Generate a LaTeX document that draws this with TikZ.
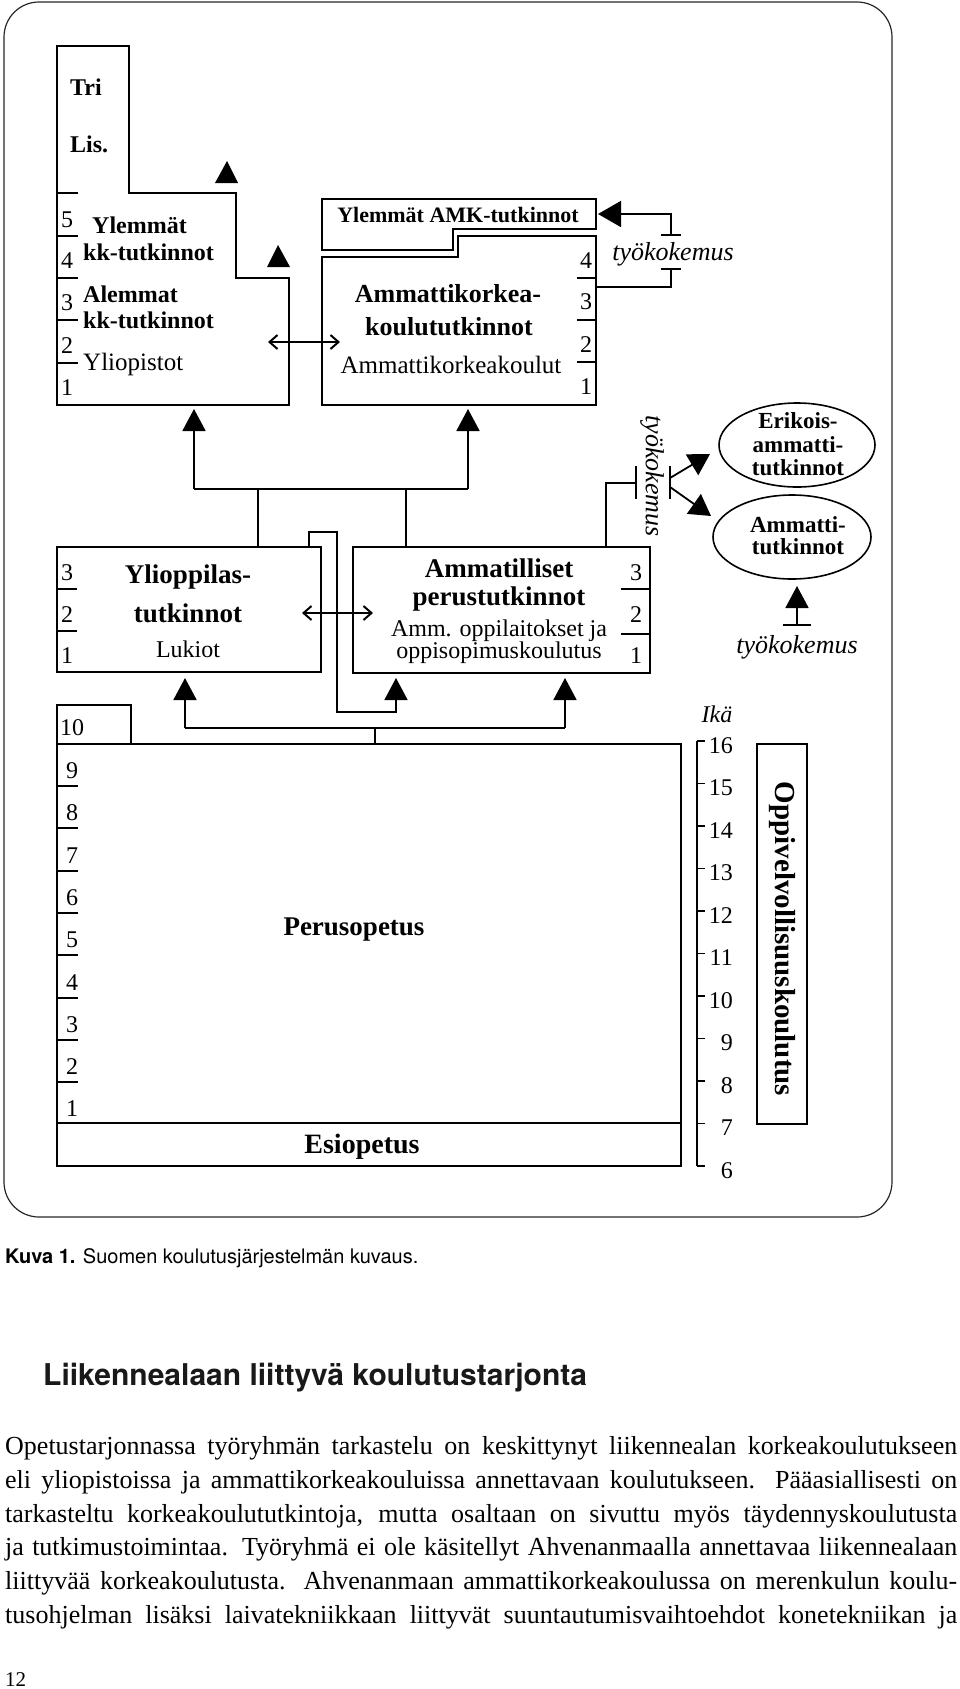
\documentclass[tikz,border=0pt]{standalone}
\usepackage{fontspec}
\setmainfont{Liberation Serif}
\newfontfamily\capfont{TeX Gyre Heros}
\usetikzlibrary{arrows.meta,shapes.geometric,calc}
\newcommand\sz[1]{\fontsize{#1}{#1}\selectfont}
\begin{document}
\begin{tikzpicture}[x=1pt,y=-1pt,
  ln/.style={line width=1.8pt},
  thin/.style={line width=1.7pt},
  bx/.style={draw,line width=1.8pt,inner sep=0pt,outer sep=0pt,anchor=north west},
  ell/.style={draw,ellipse,line width=1.6pt,inner sep=0pt},
  tc/.style={inner sep=0pt,anchor=base},
  tw/.style={inner sep=0pt,anchor=base west},
  te/.style={inner sep=0pt,anchor=base east},
  tri/.style={-{Triangle[length=22pt,width=23pt]}},
  triA/.style={-{Triangle[length=23pt,width=26pt]}},
  triD/.style={-{Triangle[length=21pt,width=24pt]}},
  barb/.style={{Straight Barb[length=8pt,width=14pt,line width=2pt]}-{Straight Barb[length=8pt,width=14pt,line width=2pt]}},
  B/.style={font=\sz{#1}\bfseries},
  R/.style={font=\sz{#1}},
  I/.style={font=\sz{#1}\itshape}
]
\useasboundingbox (0,0) rectangle (960,1689);

% outer frame
\draw[line width=1.2pt,black!85,rounded corners=35pt] (4,2) rectangle (892,1217);

% ---------- universities ----------
\draw[ln] (57,46) -- (129,46) -- (129,193) -- (236,193) -- (236,278) -- (289,278) -- (289,405) -- (57,405) -- cycle;
\foreach \y in {193,236,278,320,363} \draw[ln] (57,\y) -- (78,\y);
\node[tw,B=24] (tri) at (70,95) {Tri};
\node[tw,B=24] (lis) at (70,152) {Lis.};
\node[tc,R=24] (u5) at (67,227) {5};
\node[tc,R=24] (u4) at (67,268) {4};
\node[tc,R=24] (u3) at (67,310) {3};
\node[tc,R=24] (u2) at (67,353) {2};
\node[tc,R=24] (u1) at (67,395) {1};
\node[tw,B=24] (yl1) at (92,233) {Ylemmät};
\node[tw,B=24] (yl2) at (83,260) {kk-tutkinnot};
\node[tw,B=24] (al1) at (83,302) {Alemmat};
\node[tw,B=24] (al2) at (83,328) {kk-tutkinnot};
\node[tw,R=25] (ylio) at (83,370) {Yliopistot};
\fill (215,183) -- (227,161) -- (238,183) -- cycle;
\fill (267,267) -- (278,245) -- (290,267) -- cycle;

% ---------- AMK ----------
\draw[ln] (322,199) -- (596,199) -- (596,229) -- (453,229) -- (453,250) -- (322,250) -- cycle;
\draw[ln] (322,257) -- (458,257) -- (458,236) -- (596,236) -- (596,405) -- (322,405) -- cycle;
\foreach \y in {278,320,362} \draw[ln] (577,\y) -- (596,\y);
\node[tc,B=22] (ylamk) at (458,222) {Ylemmät AMK-tutkinnot};
\node[tc,R=24] (a4) at (586,268) {4};
\node[tc,R=24] (a3) at (586,309) {3};
\node[tc,R=24] (a2) at (586,352) {2};
\node[tc,R=24] (a1) at (586,394) {1};
\node[tc,B=26] (amk1) at (448,302) {Ammattikorkea-};
\node[tc,B=26] (amk2) at (449,335) {koulututkinnot};
\node[tc,R=25] (amk3) at (451,373) {Ammattikorkeakoulut};

\coordinate (daL) at (268,342);
\coordinate (daR) at (340,342);
\draw[thin,barb] (daL) -- (daR);

% work experience -> Ylemmät AMK
\coordinate (amkR) at (596,287);
\coordinate (wc1) at (671,269);
\coordinate (wc2) at (671,235);
\coordinate (ylR) at (598,214);
\draw[ln] (amkR) -| (wc1);
\draw[ln,triA] (wc2) |- (ylR);
\draw[ln] ($(wc1)+(-10,0)$) -- ($(wc1)+(10,0)$);
\draw[ln] ($(wc2)+(-10,0)$) -- ($(wc2)+(10,0)$);
\node[tc,I=26] (tk1) at (673,260) {työkokemus};

% ---------- upper secondary ----------
\node[bx,minimum width=264pt,minimum height=125pt] (yo) at (57,547) {};
\node[bx,minimum width=297pt,minimum height=126pt] (am) at (353,547) {};
\foreach \y in {589,631} \draw[ln] (57,\y) -- (77,\y);
\foreach \y in {589,634} \draw[ln] (621,\y) -- (650,\y);
\node[tc,R=24] (y3) at (67,580) {3};
\node[tc,R=24] (y2) at (67,622) {2};
\node[tc,R=24] (y1) at (67,663) {1};
\node[tc,R=24] (m3) at (636,580) {3};
\node[tc,R=24] (m2) at (636,622) {2};
\node[tc,R=24] (m1) at (636,663) {1};
\node[tc,B=27] (yot1) at (188,583) {Ylioppilas-};
\node[tc,B=27] (yot2) at (188,622) {tutkinnot};
\node[tc,R=24] (yot3) at (188,657) {Lukiot};
\node[tc,B=27] (amt1) at (499,577) {Ammatilliset};
\node[tc,B=27] (amt2) at (499,605) {perustutkinnot};
\node[tc,R=24] (amt3) at (499,636) {Amm. oppilaitokset ja};
\node[tc,R=24] (amt4) at (499,658) {oppisopimuskoulutus};

\coordinate (dbL) at (302,613);
\coordinate (dbR) at (373,613);
\draw[thin,barb] (dbL) -- (dbR);

% connectors up to higher education
\coordinate (jL) at (194,489);
\coordinate (jR) at (468,489);
\coordinate (univIn) at (194,409);
\coordinate (amkIn) at (468,409);
\coordinate (s1) at (258,489);
\coordinate (s2) at (406,489);
\draw[ln] (jL) -- (jR);
\draw[ln,tri] (jL) -- (univIn);
\draw[ln,tri] (jR) -- (amkIn);
\draw[ln] (s1 |- yo.north) -- (s1);
\draw[ln] (s2 |- am.north) -- (s2);

% crossing path Ylioppilas -> Ammatilliset
\coordinate (x1) at (309,532);
\coordinate (x2) at (337,712);
\coordinate (x3) at (396,678);
\draw[ln,tri] (x1 |- yo.north) -- (x1) -| (x2) -| (x3);

% work experience -> special qualifications
\coordinate (w1) at (606,483);
\coordinate (cb1) at (636,483);
\coordinate (cb2) at (670,483);
\draw[ln] (w1 |- am.north) -- (w1) -- (cb1);
\draw[ln] ($(cb1)+(0,-17)$) -- ($(cb1)+(0,16)$);
\draw[ln] ($(cb2)+(0,-17)$) -- ($(cb2)+(0,16)$);
\node[I=26,inner sep=0pt,rotate=-90] (tk2) at (652,476) {työkokemus};
\node[ell,minimum width=156pt,minimum height=84pt] (erik) at (797,445) {};
\node[ell,minimum width=158pt,minimum height=84pt] (ammt) at (792,537) {};
\coordinate (eIn) at (710,454);
\coordinate (aIn) at (711,516);
\draw[ln,triD] ($(cb2)+(0,-5)$) -- (eIn);
\draw[ln,triD] ($(cb2)+(0,4)$) -- (aIn);
\node[tc,B=23] (e1) at (798,428) {Erikois-};
\node[tc,B=23] (e2) at (798,452) {ammatti-};
\node[tc,B=23] (e3) at (798,475) {tutkinnot};
\node[tc,B=23] (t1) at (798,532) {Ammatti-};
\node[tc,B=23] (t2) at (798,554) {tutkinnot};
\coordinate (wd) at (797,625);
\coordinate (ammIn) at (797,586);
\draw[ln] ($(wd)+(-14,0)$) -- ($(wd)+(14,0)$);
\draw[ln,tri] (wd) -- (ammIn);
\node[tc,I=26] (tk3) at (797,653) {työkokemus};

% ---------- basic education ----------
\node[bx,minimum width=74pt,minimum height=39pt] (ten) at (57,705) {};
\node[bx,minimum width=624pt,minimum height=379pt] (pe) at (57,744) {};
\node[bx,minimum width=624pt,minimum height=43pt] (es) at (57,1123) {};
\node[tc,R=24] (n10) at (72,735) {10};
\foreach \y/\n in {786/9,828/8,871/7,913/6,955/5,998/4,1040/3,1082/2,1124/1}{
  \node[tc,R=24] at (72,\y-8) {\n};
}
\foreach \y in {786,828,871,913,955,998,1040,1082} \draw[ln] (57,\y) -- (78,\y);
\node[tc,B=27] (peru) at (354,935) {Perusopetus};
\node[tc,B=28] (esio) at (362,1153) {Esiopetus};

\coordinate (bL) at (185,728);
\coordinate (bR) at (565,728);
\coordinate (bM) at (375,728);
\coordinate (yoIn) at (185,678);
\coordinate (amIn) at (565,678);
\draw[ln] (bL) -- (bR);
\draw[ln,tri] (bL) -- (yoIn);
\draw[ln,tri] (bR) -- (amIn);
\draw[ln] (bM) -- (bM |- pe.north);

% ---------- age axis ----------
\draw[line width=1.6pt] (697,741) -- (697,1166);
\foreach \k/\a in {0/16,1/15,2/14,3/13,4/12,5/11,6/10,7/9,8/8,9/7,10/6}{
  \draw[line width=1.6pt] (697,741+\k*42.5) -- (705,741+\k*42.5);
  \node[te,R=24] at (733,753+\k*42.5) {\a};
}
\node[tc,I=24] (ika) at (717,722) {Ikä};
\node[bx,minimum width=50pt,minimum height=380pt] (ov) at (757,744) {};
\node[B=29,inner sep=0pt,rotate=-90] (ovt) at (782,939) {Oppivelvollisuuskoulutus};

% ---------- caption and text ----------
\node[tw,font=\capfont\sz{20}] (cap) at (5,1263) {{\bfseries Kuva 1.} Suomen koulutusjärjestelmän kuvaus.};
\node[tw,font=\capfont\sz{30}\bfseries,text=black!90] (head) at (43,1385) {Liikennealaan liittyvä koulutustarjonta};
\node[tw,R=26] (l1) at (5,1454) {\makebox[952pt][s]{Opetustarjonnassa työryhmän tarkastelu on keskittynyt liikennealan korkeakoulutukseen}};
\node[tw,R=26] (l2) at (5,1488) {\makebox[952pt][s]{eli yliopistoissa ja ammattikorkeakouluissa annettavaan koulutukseen. Pääasiallisesti on}};
\node[tw,R=26] (l3) at (5,1522) {\makebox[952pt][s]{tarkasteltu korkeakoulututkintoja, mutta osaltaan on sivuttu myös täydennyskoulutusta}};
\node[tw,R=26] (l4) at (5,1555) {\makebox[952pt][s]{ja tutkimustoimintaa. Työryhmä ei ole käsitellyt Ahvenanmaalla annettavaa liikennealaan}};
\node[tw,R=26] (l5) at (5,1589) {\makebox[952pt][s]{liittyvää korkeakoulutusta. Ahvenanmaan ammattikorkeakoulussa on merenkulun koulu-}};
\node[tw,R=26] (l6) at (5,1623) {\makebox[952pt][s]{tusohjelman lisäksi laivatekniikkaan liittyvät suuntautumisvaihtoehdot konetekniikan ja}};
\node[tw,R=21] (pg) at (5,1686) {12};
\end{tikzpicture}
\end{document}
